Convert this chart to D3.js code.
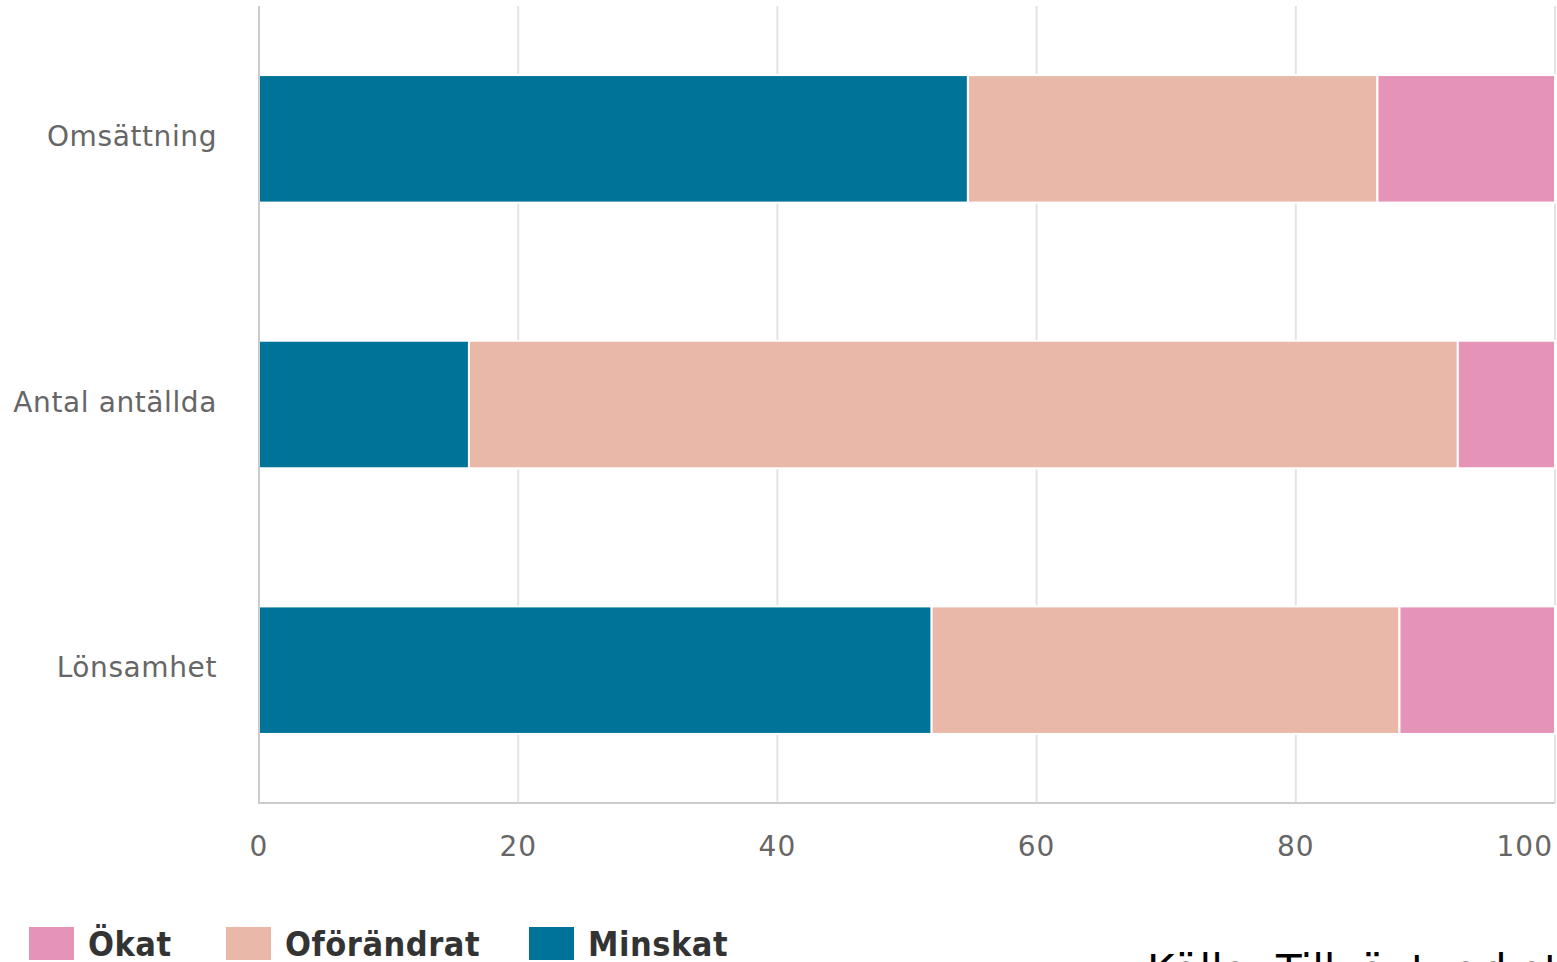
<!DOCTYPE html>
<html><head><meta charset="utf-8">
<script src="https://cdn.jsdelivr.net/npm/d3@7"></script>
<style>body{margin:0;background:#fff;overflow:hidden}</style>
</head><body>
<svg id="c" width="1557" height="962"></svg>
<script>
const categories = ["Omsättning", "Antal antällda", "Lönsamhet"];
const seriesNames = ["Minskat", "Oförändrat", "Ökat"];
const minskat = [54.7, 16.2, 51.9];
const oforandrat = [31.6, 76.3, 36.1];
const okat = [13.7, 7.5, 12.0];
const xTicks = [0, 20, 40, 60, 80, 100];
const legendOrder = ["Ökat", "Oförändrat", "Minskat"];
const colors = {"Minskat": "#007399", "Oförändrat": "#eab8a8", "Ökat": "#e693b8"};

const rows = categories.map((c, i) => ({cat: c, "Minskat": minskat[i], "Oförändrat": oforandrat[i], "Ökat": okat[i]}));
const stack = d3.stack().keys(seriesNames)(rows);

const svg = d3.select("#c");
const L = 259, R = 1555, T = 6, B = 803;
const x = d3.scaleLinear().domain([0, 100]).range([L, R]);
const y = d3.scaleBand().domain(categories).range([T, B]).paddingInner(0.52).paddingOuter(0.26);

// grid
svg.append("g").selectAll("line").data(xTicks.filter(t => t > 0)).join("line")
  .attr("x1", d => x(d)).attr("x2", d => x(d)).attr("y1", T).attr("y2", B)
  .attr("stroke", "#e3e3e3").attr("stroke-width", 2);

// bars
svg.append("g").selectAll("g").data(stack).join("g")
  .attr("fill", d => colors[d.key])
  .selectAll("rect").data(d => d).join("rect")
  .attr("x", d => x(d[0])).attr("width", d => x(d[1]) - x(d[0]))
  .attr("y", d => y(d.data.cat)).attr("height", y.bandwidth())
  .attr("stroke", "#fff").attr("stroke-width", 2);

// axes lines
svg.append("line").attr("x1", L).attr("x2", L).attr("y1", T).attr("y2", B + 1)
  .attr("stroke", "#cccccc").attr("stroke-width", 2);
svg.append("line").attr("x1", L).attr("x2", R).attr("y1", B).attr("y2", B)
  .attr("stroke", "#cccccc").attr("stroke-width", 2);

// x tick labels
svg.append("g").selectAll("text").data(xTicks).join("text")
  .attr("x", d => x(d)).attr("y", 856)
  .attr("text-anchor", d => d === 100 ? "end" : "middle")
  .attr("dx", d => d === 100 ? -2 : 0)
  .attr("font-family", "DejaVu Sans").attr("font-size", 28).attr("letter-spacing", 1).attr("fill", "#666")
  .text(d => d);

// category labels
svg.append("g").selectAll("text").data(categories).join("text")
  .attr("x", 217).attr("y", d => y(d) + y.bandwidth() / 2 + 7)
  .attr("text-anchor", "end")
  .attr("font-family", "DejaVu Sans").attr("font-size", 28).attr("letter-spacing", 0.6).attr("fill", "#666")
  .text(d => d);

// legend
const lg = svg.append("g");
const lx = [29, 226, 529];
legendOrder.forEach((k, i) => {
  lg.append("rect").attr("x", lx[i]).attr("y", 927).attr("width", 45).attr("height", 33).attr("fill", colors[k]);
  lg.append("text").attr("x", lx[i] + 59).attr("y", 956)
    .attr("font-family", "DejaVu Sans Condensed").attr("font-weight", "bold")
    .attr("font-size", 34).attr("letter-spacing", 0.5).attr("fill", "#333").text(k);
});

// source
svg.append("text").attr("x", 1147).attr("y", 985)
  .attr("font-family", "DejaVu Sans").attr("font-size", 42).attr("fill", "#000")
  .text("Källa: Tillväxtverket");
</script>
</body></html>
